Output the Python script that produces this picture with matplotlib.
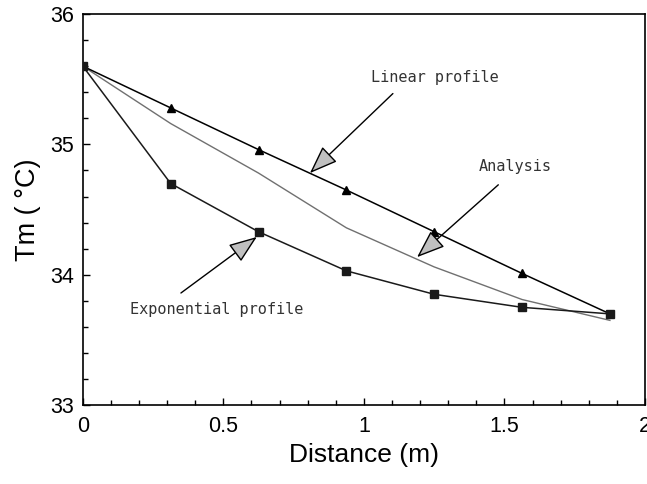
import matplotlib
matplotlib.use("Agg")
import matplotlib.pyplot as plt
from matplotlib.ticker import MultipleLocator

distance = [0.0, 0.3125, 0.625, 0.9375, 1.25, 1.5625, 1.875]
linear_profile = [35.60, 35.28, 34.96, 34.65, 34.33, 34.01, 33.70]
exponential_profile = [35.60, 34.70, 34.33, 34.03, 33.85, 33.75, 33.70]
analysis = [35.60, 35.16, 34.78, 34.36, 34.06, 33.81, 33.65]

fig = plt.figure(figsize=(6.47, 4.84), dpi=100)
ax = fig.add_axes([0.128, 0.163, 0.869, 0.808])

ax.plot(distance, analysis, color="#707070", lw=1.0, zorder=2)
ax.plot(distance, linear_profile, color="black", lw=1.1, marker="^", ms=6,
        markevery=[1, 2, 3, 4, 5], zorder=3)
ax.plot(distance, exponential_profile, color="#1a1a1a", lw=1.1, marker="s", ms=5.5,
        zorder=3)

ax.set_xlim(0, 2)
ax.set_ylim(33, 36)
ax.xaxis.set_major_locator(MultipleLocator(0.5))
ax.xaxis.set_minor_locator(MultipleLocator(0.1))
ax.yaxis.set_major_locator(MultipleLocator(1))
ax.yaxis.set_minor_locator(MultipleLocator(0.2))
ax.tick_params(which="both", direction="in", top=False, right=False, width=1.0)
ax.tick_params(which="major", length=5)
ax.tick_params(which="minor", length=3.5)
ax.set_xticks([0, 0.5, 1, 1.5, 2])
ax.set_xticklabels(["0", "0.5", "1", "1.5", "2"])
for lab in ax.get_xticklabels() + ax.get_yticklabels():
    lab.set_fontfamily(["Liberation Sans", "DejaVu Sans"])
    lab.set_fontsize(15.5)
ax.tick_params(axis="x", pad=8)
ax.tick_params(axis="y", pad=6)
for sp in ax.spines.values():
    sp.set_linewidth(1.2)

lab_family = ["Liberation Sans", "DejaVu Sans"]
ax.set_xlabel("Distance (m)", fontsize=19, family=lab_family, labelpad=4)
ax.set_ylabel("Tm ( °C)", fontsize=19.5, family=lab_family, labelpad=7)

ann_font = dict(family="DejaVu Sans Mono", fontsize=11, color="#333333")
arrow = dict(arrowstyle="-|>,head_length=1.6,head_width=0.6", fc="#c0c0c0",
             ec="black", lw=1.0, shrinkA=0, shrinkB=0)

ax.text(1.253, 35.51, "Linear profile", ha="center", va="center", **ann_font)
ax.annotate("", xy=(0.808, 34.78), xytext=(1.103, 35.39),
            arrowprops=arrow, fontsize=11)

ax.text(1.537, 34.83, "Analysis", ha="center", va="center", **ann_font)
ax.annotate("", xy=(1.189, 34.135), xytext=(1.478, 34.69),
            arrowprops=arrow, fontsize=11)

ax.text(0.477, 33.73, "Exponential profile", ha="center", va="center", **ann_font)
ax.annotate("", xy=(0.619, 34.29), xytext=(0.349, 33.86),
            arrowprops=arrow, fontsize=11)

fig.savefig("out.png", dpi=100)
